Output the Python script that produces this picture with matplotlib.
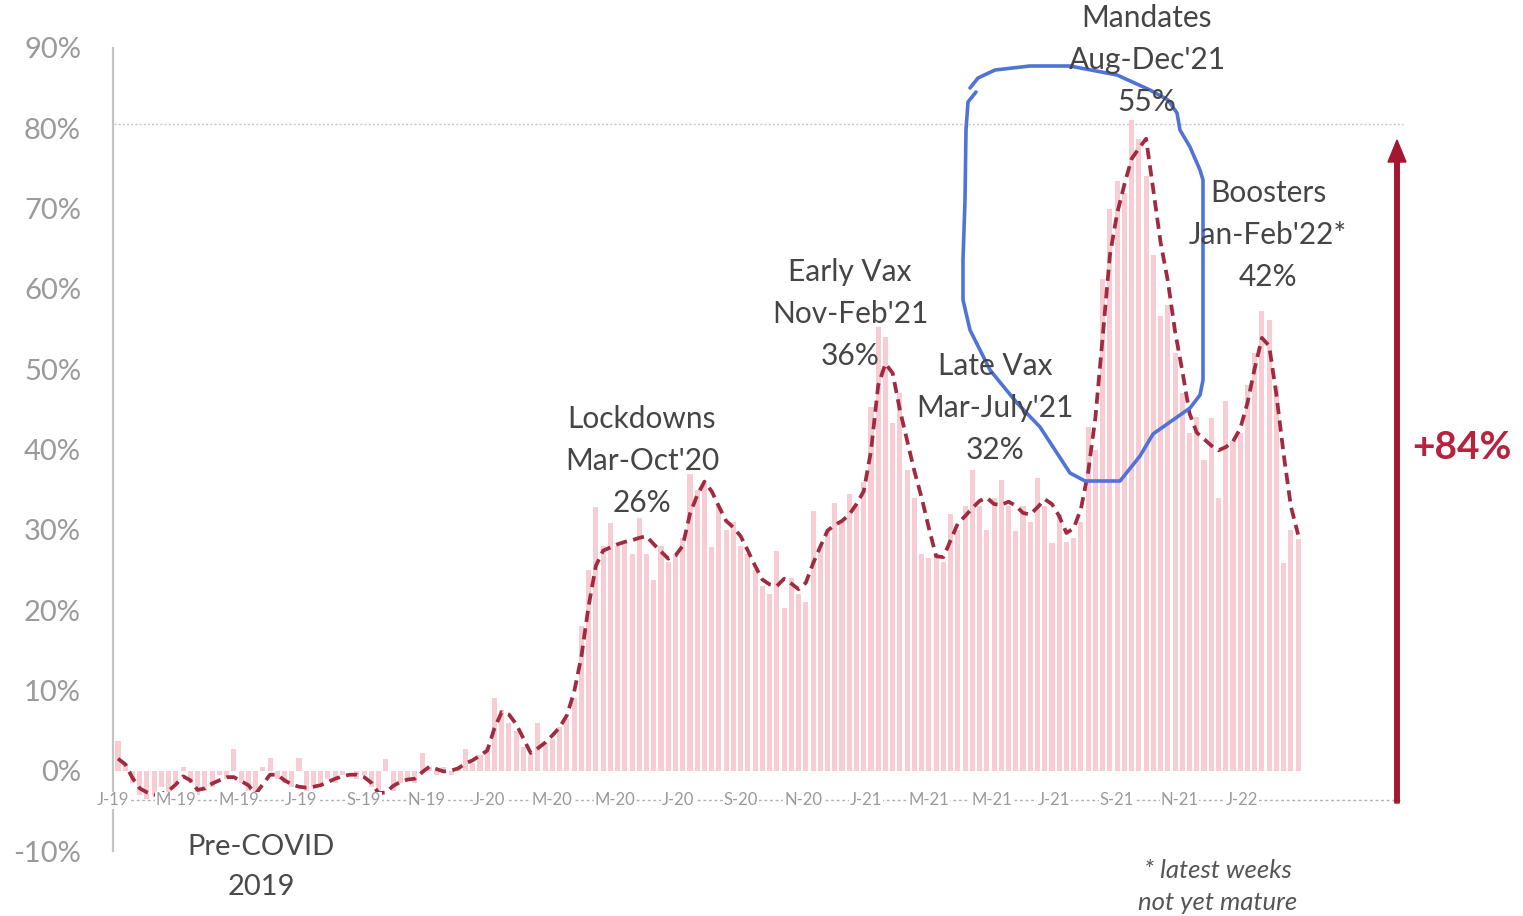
import numpy as np
import matplotlib
matplotlib.use("Agg")
import matplotlib.pyplot as plt
from matplotlib.lines import Line2D
from matplotlib.patches import FancyArrow

# weekly change vs baseline (%), Jan 2019 .. early Mar 2022
weekly_bars = [
    3.7, 1.0, -1.5, -3.0, -3.5, -3.0, -2.0, -3.5, -1.5, 0.5,
    -1.5, -3.0, -2.5, -2.0, -0.5, -1.0, 2.7, -1.5, -2.5, -3.5,
    0.5, 1.6, -1.0, -1.5, -2.0, 1.6, -2.5, -2.0, -1.5, -1.0,
    -1.5, -0.5, 0.0, -1.0, -0.5, -2.0, -4.0, 1.5, -2.5, -1.5,
    -1.0, -1.5, 2.2, 0.5, -0.5, 0.5, -0.5, 0.5, 2.7, 1.0,
    2.0, 3.0, 9.1, 7.5, 6.0, 5.0, 3.0, 2.0, 5.9, 3.5,
    4.0, 5.5, 6.5, 9.0, 18.0, 25.0, 32.8, 28.0, 30.8, 28.0,
    28.5, 27.0, 31.5, 27.0, 23.7, 28.0, 26.0, 27.0, 29.0, 37.0,
    35.0, 36.0, 27.8, 33.0, 30.0, 31.0, 28.0, 27.0, 25.0, 23.0,
    22.0, 27.4, 20.3, 24.0, 22.0, 21.0, 32.4, 28.0, 30.0, 33.3,
    31.0, 34.5, 33.0, 36.0, 45.3, 55.3, 54.0, 43.3, 47.0, 37.4,
    34.0, 27.0, 26.5, 27.0, 26.0, 32.0, 30.0, 33.0, 37.4, 33.0,
    30.0, 34.0, 36.2, 33.0, 29.9, 33.0, 31.0, 36.5, 33.0, 28.3,
    32.0, 28.5, 29.0, 31.0, 42.8, 40.0, 61.2, 70.0, 73.4, 72.0,
    81.0, 78.7, 74.0, 64.2, 56.6, 58.0, 52.0, 47.0, 42.0, 44.0,
    38.7, 43.9, 34.0, 46.1, 41.0, 42.0, 48.0, 52.0, 57.2, 56.1,
    47.9, 25.9, 30.0, 28.8,
]

# smoothed trend (dashed line)
trend = [
    1.5, 0.8, -0.9, -2.2, -2.7, -3.0, -2.9, -2.5, -1.7, -0.7,
    -1.2, -2.4, -2.2, -1.6, -1.2, -0.8, -0.8, -1.3, -1.8, -2.9,
    -1.7, -0.5, -0.5, -1.2, -1.7, -2.0, -2.1, -2.0, -1.8, -1.4,
    -1.0, -0.7, -0.5, -0.5, -0.8, -1.5, -2.8, -2.7, -1.9, -1.4,
    -1.1, -1.0, -0.2, 0.5, 0.2, -0.1, 0.0, 0.3, 0.9, 1.3,
    1.9, 2.5, 5.3, 7.3, 7.0, 5.8, 4.0, 2.2, 2.8, 3.5,
    4.4, 5.4, 6.9, 9.8, 14.2, 20.5, 25.5, 27.4, 27.8, 28.2,
    28.5, 28.7, 29.0, 29.2, 28.2, 27.3, 26.4, 26.8, 28.0, 32.0,
    34.3, 36.0, 34.8, 32.9, 31.1, 30.3, 29.2, 27.4, 25.5, 23.8,
    23.2, 23.0, 23.9, 23.3, 22.6, 23.4, 25.8, 27.9, 29.9, 30.6,
    31.1, 31.9, 33.2, 34.8, 39.8, 48.0, 50.7, 49.5, 44.9, 41.1,
    37.3, 34.0, 30.2, 26.7, 26.6, 28.7, 30.8, 31.7, 32.7, 33.6,
    34.0, 33.2, 33.1, 33.5, 33.0, 32.1, 31.9, 32.8, 33.8, 33.2,
    31.7, 29.6, 30.2, 32.6, 37.2, 44.0, 54.0, 64.2, 69.4, 73.0,
    76.2, 77.5, 78.7, 72.3, 65.8, 61.0, 54.7, 49.8, 44.5, 42.1,
    41.3, 40.5, 39.9, 40.3, 41.0, 42.6, 45.8, 50.1, 53.9, 52.9,
    46.8, 39.4, 32.9, 29.4,
]

month_labels = ["J-19", "M-19", "M-19", "J-19", "S-19", "N-19",
                "J-20", "M-20", "M-20", "J-20", "S-20", "N-20",
                "J-21", "M-21", "M-21", "J-21", "S-21", "N-21", "J-22"]

y_ticks = [-10, 0, 10, 20, 30, 40, 50, 60, 70, 80, 90]

notes = [
    (["Lockdowns", "Mar-Oct'20", "26%"], 642, 419),
    (["Early Vax", "Nov-Feb'21", "36%"], 850, 272),
    (["Late Vax", "Mar-July'21", "32%"], 995, 366),
    (["Mandates", "Aug-Dec'21", "55%"], 1147, 18),
    (["Boosters", "Jan-Feb'22*", "42%"], 1268, 193),
]

W, H = 1523, 916
FONT = ["Lato", "DejaVu Sans"]


def fx(px, py):
    """image pixel -> figure fraction"""
    return px / W, 1 - py / H


def main():
    plt.rcParams['font.family'] = FONT
    fig = plt.figure(figsize=(W / 100, H / 100), dpi=100)
    fig.patch.set_facecolor("white")

    # axes placed so the y axis sits at x=113px, -10%..90% spans 851..48px
    ax = fig.add_axes([113 / W, 65 / H, 1297 / W, 803 / H])
    weeks = np.arange(len(weekly_bars))
    ax.set_xlim(-0.69, 178.45)
    ax.set_ylim(-10, 90)

    ax.bar(weeks, weekly_bars, width=0.7, color="#f8ccd3", zorder=2)
    ax.plot(weeks, trend, color="#a02a40", lw=2.7,
            linestyle=(0, (3.0, 1.7)), zorder=3)

    # dotted reference lines
    ax.plot([-0.5, 177.5], [80.5, 80.5], color="#c8c8c8", lw=1.0,
            linestyle=(0, (1.5, 1.5)), zorder=1)
    ax.plot([-0.5, 177.5], [-3.7, -3.7], color="#b0b0b0", lw=1.0,
            linestyle=(0, (2, 2)), zorder=1)

    # month labels sitting on the dotted axis line
    step = 52 / 6
    for k, lab in enumerate(month_labels):
        ax.text(-0.7 + k * step, -3.7, lab, ha="center", va="center",
                fontsize=12, color="#9a9a9a", zorder=4,
                bbox=dict(facecolor="white", edgecolor="none", pad=0.5))

    for s in ["top", "right", "bottom"]:
        ax.spines[s].set_visible(False)
    ax.spines["left"].set_color("#c4c4c4")
    ax.spines["left"].set_linewidth(1.6)
    ax.set_xticks([])
    ax.set_yticks(y_ticks)
    ax.set_yticklabels([f"{v}%" for v in y_ticks])
    ax.tick_params(axis="y", length=0, pad=23, labelsize=21,
                   labelcolor="#9a9a9a")

    # annotations
    for lines, cx, cy in notes:
        for j, t in enumerate(lines):
            x, y = fx(cx, cy + j * 42)
            fig.text(x, y, t, ha="center", va="center", fontsize=21.5,
                     color="#454545", zorder=5)
    for j, t in enumerate(["Pre-COVID", "2019"]):
        x, y = fx(261, 847 + j * 40)
        fig.text(x, y, t, ha="center", va="center", fontsize=21,
                 color="#4a4a4a")
    for j, t in enumerate(["* latest weeks", "not yet mature"]):
        x, y = fx(1218, 870 + j * 32)
        fig.text(x, y, t, ha="center", va="center", fontsize=18.5,
                 color="#555555", style="italic")

    # red arrow and total change
    x0, y0 = fx(1397, 803)
    x1, y1 = fx(1397, 140)
    arr = FancyArrow(x0, y0, 0, y1 - y0, width=4.5 / W, head_width=18 / W,
                     head_length=22 / H, length_includes_head=True,
                     color="#a3172f", transform=fig.transFigure)
    fig.add_artist(arr)
    x, y = fx(1462, 447)
    fig.text(x, y, "+84%", ha="center", va="center", fontsize=28,
             fontweight="bold", color="#b8223d")

    # hand-drawn blue loop around the mandates peak
    loop = [(976, 92), (968, 102), (966, 130), (965, 200), (963, 260),
            (963, 300), (970, 330), (990, 370), (1017, 403), (1040, 427),
            (1070, 473), (1085, 481), (1120, 481), (1140, 456), (1153, 434),
            (1190, 408), (1200, 395), (1203, 380), (1203, 300), (1203, 180),
            (1200, 170), (1190, 147), (1180, 130), (1177, 113), (1168, 100),
            (1150, 90), (1117, 75), (1070, 66), (1030, 66), (995, 70),
            (978, 78), (970, 88)]
    lx = [fx(p[0], p[1])[0] for p in loop]
    ly = [fx(p[0], p[1])[1] for p in loop]
    fig.add_artist(Line2D(lx, ly, color="#4f73d6", lw=2.6,
                          solid_joinstyle="round", solid_capstyle="round",
                          transform=fig.transFigure))

    fig.savefig("out.png", dpi=100)


if __name__ == '__main__':
    main()
